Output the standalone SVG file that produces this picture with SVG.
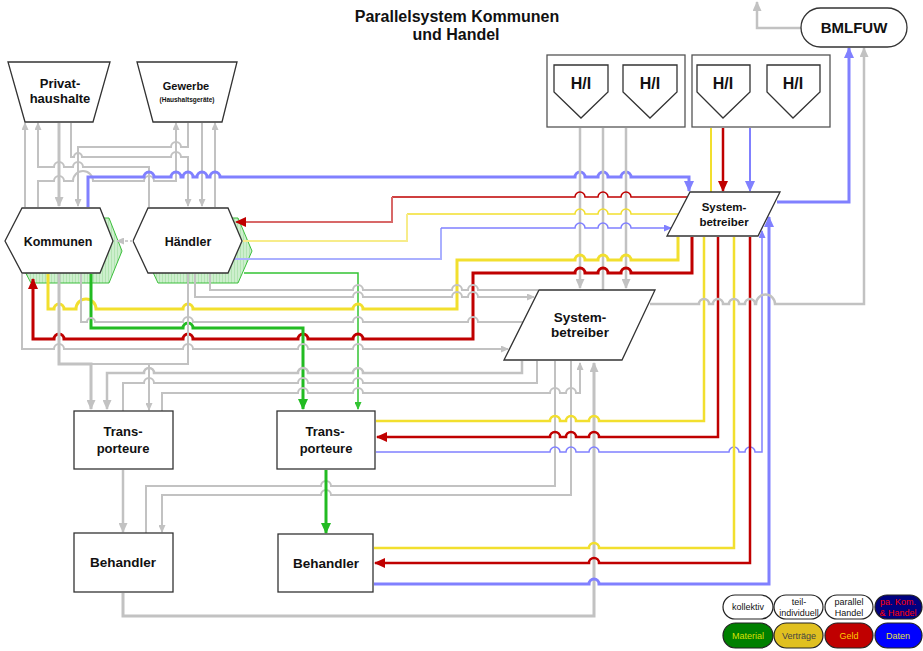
<svg xmlns="http://www.w3.org/2000/svg" width="923" height="651" viewBox="0 0 923 651">
<style>
  .ln{fill:none}
  .g{stroke:#c2c2c2;stroke-width:2}
  .g25{stroke:#c2c2c2;stroke-width:2.5}
  .g3{stroke:#c2c2c2;stroke-width:3}
  .y{stroke:#f2df2e;stroke-width:2.5}
  .y3{stroke:#f2df2e;stroke-width:3}
  .y1{stroke:#f2df2e;stroke-width:1.5}
  .yl{stroke:#f7ec8a;stroke-width:2}
  .r{stroke:#c00000;stroke-width:2.5}
  .r3{stroke:#c00000;stroke-width:3}
  .r1{stroke:#c00000;stroke-width:1.5}
  .rl{stroke:#d86868;stroke-width:2}
  .b{stroke:#8080ff;stroke-width:2}
  .b3{stroke:#8080ff;stroke-width:3}
  .b1{stroke:#8080ff;stroke-width:1.5}
  .bl{stroke:#aab0ff;stroke-width:2}
  .gr3{stroke:#22bb22;stroke-width:3}
  .gr1{stroke:#33c433;stroke-width:1.5}
  .node{fill:#fff;stroke:#333;stroke-width:1.3}
  .box{fill:#fff;stroke:#555;stroke-width:1.3}
  .shadow{fill:url(#hatch);stroke:#3cbf3c;stroke-width:1}
  .leg{stroke:#222;stroke-width:1.2}
  text{font-family:"Liberation Sans",Arial,Helvetica,sans-serif;font-weight:bold;fill:#111;text-anchor:middle}
  .lg{font-weight:normal;font-size:9px}
</style>
<defs>
  <pattern id="hatch" width="3" height="3" patternUnits="userSpaceOnUse">
    <rect width="3" height="3" fill="#cdefcd"/>
    <rect width="1" height="3" fill="#b2e4b2"/>
  </pattern>
  <marker id="aG" markerUnits="userSpaceOnUse" markerWidth="10" markerHeight="9" refX="9" refY="4.5" orient="auto"><path d="M0,0L10,4.5L0,9z" fill="#c2c2c2"/></marker>
  <marker id="aGs" markerUnits="userSpaceOnUse" markerWidth="8" markerHeight="7" refX="7" refY="3.5" orient="auto"><path d="M0,0L8,3.5L0,7z" fill="#c2c2c2"/></marker>
  <marker id="aR" markerUnits="userSpaceOnUse" markerWidth="11" markerHeight="10" refX="10" refY="5" orient="auto"><path d="M0,0L11,5L0,10z" fill="#c00000"/></marker>
  <marker id="aB" markerUnits="userSpaceOnUse" markerWidth="11" markerHeight="10" refX="10" refY="5" orient="auto"><path d="M0,0L11,5L0,10z" fill="#8080ff"/></marker>
  <marker id="aBs" markerUnits="userSpaceOnUse" markerWidth="8" markerHeight="7" refX="7" refY="3.5" orient="auto"><path d="M0,0L8,3.5L0,7z" fill="#8080ff"/></marker>
  <marker id="aGr" markerUnits="userSpaceOnUse" markerWidth="11" markerHeight="10" refX="10" refY="5" orient="auto"><path d="M0,0L11,5L0,10z" fill="#22bb22"/></marker>
  <marker id="aGrs" markerUnits="userSpaceOnUse" markerWidth="8" markerHeight="7" refX="7" refY="3.5" orient="auto"><path d="M0,0L8,3.5L0,7z" fill="#33c433"/></marker>
</defs>

<rect width="923" height="651" fill="#fff"/>

<!-- title -->
<g id="title">
  <text x="457" y="22" font-size="16">Parallelsystem Kommunen</text>
  <text x="456" y="40" font-size="16">und Handel</text>
</g>

<!-- green drop shadows of the hexagons -->
<g id="shadows">
  <polygon class="shadow" points="14,251 31,218 109,218 122,251 109,283 31,283"/>
  <polygon class="shadow" points="143,251 158,218 238,218 252,251 238,283 158,283"/>
</g>

<g id="connectors" class="ln">
  <!-- Privathaushalte / Gewerbe <-> Kommunen / Händler -->
  <path class="g" d="M25,207V123" marker-end="url(#aGs)"/>
  <path class="g3" d="M59,123V206" marker-end="url(#aG)"/>
  <path class="g" d="M149,207V167H83a5,5 0 0 0 -10,0H64a5,5 0 0 0 -10,0H38V123" marker-end="url(#aGs)"/>
  <path class="g" d="M38,207V181H54a5,5 0 0 1 10,0H73a10,10 0 0 1 20,0H144a5,5 0 0 1 10,0H176V123" marker-end="url(#aGs)"/>
  <path class="g" d="M188,123V147H181a5,5 0 0 0 -10,0H78V206" marker-end="url(#aGs)"/>
  <path class="g" d="M71,123V157H74a4,4 0 0 1 8,0H171a5,5 0 0 1 10,0H188V206" marker-end="url(#aGs)"/>
  <path class="g" d="M202,123V206" marker-end="url(#aGs)"/>
  <path class="g" d="M215,207V123" marker-end="url(#aGs)"/>

  <!-- data line Kommunen -> Systembetreiber -->
  <path class="b3" d="M88,207V177H144a5,5 0 0 1 10,0H171a5,5 0 0 1 10,0H183a5,5 0 0 1 10,0H197a5,5 0 0 1 10,0H210a5,5 0 0 1 10,0H575a5,5 0 0 1 10,0H598a5,5 0 0 1 10,0H621a5,5 0 0 1 10,0H689V191" marker-end="url(#aB)"/>

  <!-- H/I (collective) -> Systembetreiber -->
  <path class="g25" d="M580,128V288" marker-end="url(#aG)"/>
  <path class="g25" d="M603,128V290"/>
  <path class="g25" d="M626,128V288" marker-end="url(#aG)"/>

  <!-- H/I (parallel) -> Systembetreiber -->
  <path class="b" d="M711,128V236" style="stroke:#f2df2e"/>
  <path class="r" d="M723,128V191" marker-end="url(#aR)"/>
  <path class="b" d="M750,128V191" marker-end="url(#aB)"/>

  <!-- Systembetreiber -> Händler (thin) -->
  <path class="r1" d="M687,197H631a5,5 0 0 0 -10,0H608a5,5 0 0 0 -10,0H585a5,5 0 0 0 -10,0H392"/>
  <path class="rl" d="M392,197V222H236" marker-end="url(#aR)"/>
  <path class="y1" d="M679,214H631a5,5 0 0 0 -10,0H608a5,5 0 0 0 -10,0H585a5,5 0 0 0 -10,0H407"/>
  <path class="yl" d="M407,214V241H243"/>
  <path class="bl" d="M233,259H441V228"/>
  <path class="b1" d="M441,228H575a5,5 0 0 1 10,0H598a5,5 0 0 1 10,0H621a5,5 0 0 1 10,0H671" marker-end="url(#aBs)"/>
  <path class="gr1" d="M244,273H358V409" marker-end="url(#aGrs)"/>

  <!-- Systembetreiber -> Kommunen (thick) -->
  <path class="y3" d="M678,237V260H631a5,5 0 0 0 -10,0H608a5,5 0 0 0 -10,0H585a5,5 0 0 0 -10,0H457V309H363a5,5 0 0 0 -10,0H193a5,5 0 0 0 -10,0H96a10,10 0 0 0 -20,0H64a5,5 0 0 0 -10,0H48V274"/>
  <path class="r3" d="M692,237V273H631a5,5 0 0 0 -10,0H608a5,5 0 0 0 -10,0H585a5,5 0 0 0 -10,0H473V339H363a5,5 0 0 0 -10,0H308a5,5 0 0 0 -10,0H193a5,5 0 0 0 -10,0H64a5,5 0 0 0 -10,0H33V279" marker-end="url(#aR)"/>

  <!-- Kommunen / Händler -> Systembetreiber, Transporteure -->
  <path class="gr3" d="M91,274V328H183a5,5 0 0 1 10,0H303V409" marker-end="url(#aGr)"/>
  <path class="g" d="M81,274V322H87a4,4 0 0 1 8,0H183a5,5 0 0 1 10,0H353a5,5 0 0 1 10,0H468a5,5 0 0 1 10,0H523"/>
  <path class="g" d="M22,274V349H54a5,5 0 0 1 10,0H183a5,5 0 0 1 10,0H298a5,5 0 0 1 10,0H353a5,5 0 0 1 10,0H508" marker-end="url(#aGs)"/>
  <path class="g" d="M195,274V297H353a5,5 0 0 1 10,0H452a5,5 0 0 1 10,0H468a5,5 0 0 1 10,0H534" marker-end="url(#aGs)"/>
  <path class="g" d="M210,274V290H353a5,5 0 0 1 10,0H452a5,5 0 0 1 10,0H468a5,5 0 0 1 10,0H538"/>
  <path class="g3" d="M59,274V364H91V409" marker-end="url(#aG)"/>
  <path class="g" d="M188,274V364H91"/>
  <path class="g" d="M149,364V410" marker-end="url(#aGs)"/>

  <!-- Systembetreiber <-> Transporteure / Behandler (left) -->
  <path class="g25" d="M522,361V373H363a5,5 0 0 0 -10,0H308a5,5 0 0 0 -10,0H154a5,5 0 0 0 -10,0H107V409" marker-end="url(#aG)"/>
  <path class="g" d="M123,411V383H144a5,5 0 0 1 10,0H298a5,5 0 0 1 10,0H353a5,5 0 0 1 10,0H537V361"/>
  <path class="g" d="M162,411V393H298a5,5 0 0 1 10,0H353a5,5 0 0 1 10,0H550a5,5 0 0 1 10,0H566a5,5 0 0 1 10,0H580V363" marker-end="url(#aGs)"/>
  <path class="g" d="M555,361V486H331a5,5 0 0 0 -10,0H146V533"/>
  <path class="g" d="M571,361V495H331a5,5 0 0 0 -10,0H162V532" marker-end="url(#aGs)"/>
  <path class="g25" d="M123,470V532" marker-end="url(#aG)"/>
  <path class="g3" d="M123,593V616H594V363" marker-end="url(#aG)"/>
  <path class="gr3" d="M326,470V533" marker-end="url(#aGr)"/>

  <!-- Systembetreiber <-> Transporteure / Behandler (parallel) -->
  <path class="y" d="M376,421H550a5,5 0 0 1 10,0H566a5,5 0 0 1 10,0H589a5,5 0 0 1 10,0H704V237"/>
  <path class="r" d="M718,237V437H599a5,5 0 0 0 -10,0H576a5,5 0 0 0 -10,0H560a5,5 0 0 0 -10,0H377" marker-end="url(#aR)"/>
  <path class="b1" d="M376,452H550a5,5 0 0 1 10,0H566a5,5 0 0 1 10,0H589a5,5 0 0 1 10,0H729a5,5 0 0 1 10,0H745a5,5 0 0 1 10,0H762V231" marker-end="url(#aBs)"/>
  <path class="y" d="M374,548H589a5,5 0 0 1 10,0H734V237"/>
  <path class="r" d="M750,237V563H599a5,5 0 0 0 -10,0H375" marker-end="url(#aR)"/>
  <path class="b3" d="M374,584H589a5,5 0 0 1 10,0H769V217" marker-end="url(#aB)"/>

  <!-- Systembetreiber -> BMLFUW -->
  <path class="g25" d="M650,304H699a5,5 0 0 1 10,0H713a5,5 0 0 1 10,0H729a5,5 0 0 1 10,0H745a5,5 0 0 1 10,0H756a9.5,9.5 0 0 1 19,0H864V48" marker-end="url(#aG)"/>
  <path class="b3" d="M777,202H849V48" marker-end="url(#aB)"/>
  <path class="g25" d="M801,28H757V2" marker-end="url(#aG)"/>
</g>

<!-- nodes -->
<g id="privathaushalte">
  <polygon class="node" points="8,62 110,62 93,122 25,122"/>
  <text x="60" y="88" font-size="13">Privat-</text>
  <text x="60" y="103" font-size="13">haushalte</text>
</g>
<g id="gewerbe">
  <polygon class="node" points="137,62 237,62 222,122 153,122"/>
  <text x="186" y="90" font-size="11">Gewerbe</text>
  <text x="187" y="102" font-size="6.5">(Haushaltsgeräte)</text>
</g>
<g id="kommunen">
  <polygon class="node" points="5,241 22,208 100,208 113,241 100,273 22,273"/>
  <text x="58" y="245.5" font-size="12.5">Kommunen</text>
</g>
<g id="haendler">
  <polygon class="node" points="133,241 148,208 228,208 242,241 228,273 148,273"/>
  <path d="M133,241H117" class="ln" stroke="#cfcfcf" stroke-width="2" stroke-dasharray="3,2" marker-end="url(#aGs)"/>
  <text x="188" y="245.5" font-size="12.5">Händler</text>
</g>
<g id="hi-kollektiv">
  <rect class="box" x="547" y="55" width="138" height="72"/>
  <polygon class="node" points="554,65 608,65 608,92 581,118 554,92"/>
  <polygon class="node" points="623,65 677,65 677,92 650,118 623,92"/>
  <text x="581" y="89" font-size="16">H/I</text>
  <text x="650" y="89" font-size="16">H/I</text>
</g>
<g id="hi-parallel">
  <rect class="box" x="692" y="55" width="138" height="72"/>
  <polygon class="node" points="697,65 750,65 750,92 723,118 697,92"/>
  <polygon class="node" points="767,65 820,65 820,92 793,118 767,92"/>
  <text x="723" y="89" font-size="16">H/I</text>
  <text x="793" y="89" font-size="16">H/I</text>
</g>
<g id="bmlfuw">
  <rect class="node" x="801" y="8" width="106" height="39" rx="19.5"/>
  <text x="854" y="33" font-size="15">BMLFUW</text>
</g>
<g id="systembetreiber-parallel">
  <polygon class="node" points="690,192 780,192 758,236 667,236"/>
  <text x="724" y="211" font-size="11.5">System-</text>
  <text x="724" y="226" font-size="11.5">betreiber</text>
</g>
<g id="systembetreiber">
  <polygon class="node" points="539,290 655,290 622,360 504,360"/>
  <text x="580" y="321.5" font-size="13.5">System-</text>
  <text x="580" y="337" font-size="13.5">betreiber</text>
</g>
<g id="transporteure-1">
  <rect class="node" x="74" y="411" width="99" height="58"/>
  <text x="123" y="435.5" font-size="13">Trans-</text>
  <text x="123" y="452.5" font-size="13">porteure</text>
</g>
<g id="transporteure-2">
  <rect class="node" x="277" y="411" width="98" height="58"/>
  <text x="325" y="435.5" font-size="13">Trans-</text>
  <text x="326" y="452.5" font-size="13">porteure</text>
</g>
<g id="behandler-1">
  <rect class="node" x="74" y="533" width="99" height="59"/>
  <text x="123" y="566.5" font-size="13.5">Behandler</text>
</g>
<g id="behandler-2">
  <rect class="node" x="278" y="534" width="95" height="58"/>
  <text x="326" y="568" font-size="13.5">Behandler</text>
</g>

<!-- legend -->
<g id="legend">
  <rect class="leg" x="723" y="595" width="50" height="24" rx="12" fill="#fff"/>
  <rect class="leg" x="774" y="595" width="49" height="24" rx="12" fill="#fff"/>
  <rect class="leg" x="825" y="595" width="48" height="24" rx="12" fill="#fff"/>
  <rect class="leg" x="875" y="595" width="47" height="24" rx="12" fill="#000080"/>
  <rect class="leg" x="723" y="623" width="50" height="25" rx="12.5" fill="#008000"/>
  <rect class="leg" x="774" y="623" width="49" height="25" rx="12.5" fill="#e0c020"/>
  <rect class="leg" x="825" y="623" width="48" height="25" rx="12.5" fill="#c00000"/>
  <rect class="leg" x="875" y="623" width="47" height="25" rx="12.5" fill="#0000ff"/>
  <text class="lg" x="748" y="610">kollektiv</text>
  <text class="lg" x="799" y="605">teil-</text>
  <text class="lg" x="799" y="616">individuell</text>
  <text class="lg" x="849" y="605">parallel</text>
  <text class="lg" x="849" y="616">Handel</text>
  <text class="lg" x="898" y="605" style="fill:#ff0000">pa. Kom.</text>
  <text class="lg" x="898" y="616" style="fill:#ff0000">&amp; Handel</text>
  <text class="lg" x="748" y="639" style="fill:#d8e000">Material</text>
  <text class="lg" x="799" y="639" style="fill:#444">Verträge</text>
  <text class="lg" x="849" y="639" style="fill:#ffcc00">Geld</text>
  <text class="lg" x="898" y="639" style="fill:#e0e040">Daten</text>
</g>
</svg>
